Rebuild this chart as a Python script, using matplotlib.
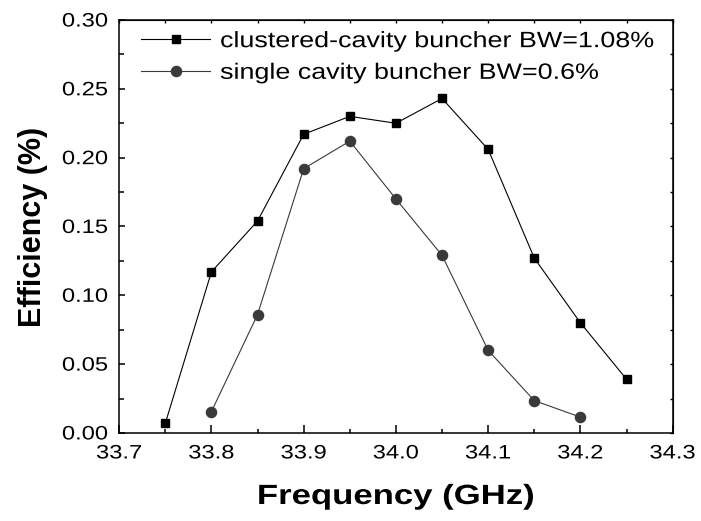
import numpy as np
import matplotlib
matplotlib.use('Agg')
import matplotlib.pyplot as plt
from matplotlib.ticker import MultipleLocator
from matplotlib.patheffects import AbstractPathEffect
from matplotlib.transforms import Affine2D

plt.rcParams['font.family'] = ['Liberation Sans', 'DejaVu Sans']

# clustered-cavity buncher
freq_cc = [33.75, 33.80, 33.85, 33.90, 33.95, 34.00, 34.05, 34.10, 34.15, 34.20, 34.25]
eff_cc = [0.007, 0.117, 0.154, 0.217, 0.230, 0.225, 0.243, 0.206, 0.127, 0.080, 0.039]

# single cavity buncher
freq_sc = [33.80, 33.85, 33.90, 33.95, 34.00, 34.05, 34.10, 34.15, 34.20]
eff_sc = [0.0155, 0.086, 0.192, 0.212, 0.170, 0.129, 0.060, 0.0235, 0.0115]

labels = ['clustered-cavity buncher BW=1.08%', 'single cavity buncher BW=0.6%']
xticks = [33.7, 33.8, 33.9, 34.0, 34.1, 34.2, 34.3]
yticks = [0.00, 0.05, 0.10, 0.15, 0.20, 0.25, 0.30]


class Wide(AbstractPathEffect):
    # the original font is drawn wider than Arial, stretch glyphs sideways
    def __init__(self, sx=1.22, anchor='center'):
        super().__init__()
        self.sx = sx
        self.anchor = anchor

    def draw_path(self, renderer, gc, tpath, affine, rgbFace=None):
        ext = tpath.get_extents(affine)
        if self.anchor == 'left':
            x0 = ext.x0
        elif self.anchor == 'right':
            x0 = ext.x1
        else:
            x0 = 0.5 * (ext.x0 + ext.x1)
        st = Affine2D().translate(-x0, 0).scale(self.sx, 1).translate(x0, 0)
        renderer.draw_path(gc, tpath, affine + st, rgbFace)


fig = plt.figure(figsize=(7.01, 5.21), dpi=100)
ax = fig.add_axes([0.170, 0.169, 0.7896, 0.7926])

ax.plot(freq_cc, eff_cc, color='black', lw=0.8, marker='s', ms=6.3,
        mfc='black', mec='black', label=labels[0])
ax.plot(freq_sc, eff_sc, color='#3a3a3a', lw=0.8, marker='o', ms=7.3,
        mfc='#3a3a3a', mec='#3a3a3a', label=labels[1])

ax.set_xlim(33.7, 34.3)
ax.set_ylim(0, 0.30)
ax.set_xticks(xticks)
ax.set_xticklabels(['%.1f' % v for v in xticks])
ax.set_yticks(yticks)
ax.set_yticklabels(['%.2f' % v for v in yticks])
ax.xaxis.set_minor_locator(MultipleLocator(0.05))
ax.yaxis.set_minor_locator(MultipleLocator(0.025))

ax.tick_params(which='both', direction='in', labelsize=14, width=1.1)
ax.tick_params(axis='x', which='major', length=6, pad=9)
ax.tick_params(axis='x', which='minor', length=3)
ax.tick_params(axis='y', which='major', length=4.5, pad=8)
ax.tick_params(axis='y', which='minor', length=3.5)
for s in ax.spines.values():
    s.set_linewidth(1.1)

# short ticks on top and right
top = ax.secondary_xaxis('top')
top.set_xticks(xticks)
top.xaxis.set_minor_locator(MultipleLocator(0.05))
top.tick_params(which='both', direction='in', length=2, width=1.0, labeltop=False)
right = ax.secondary_yaxis('right')
right.set_yticks(yticks)
right.yaxis.set_minor_locator(MultipleLocator(0.025))
right.tick_params(which='both', direction='in', length=2, width=1.0, labelright=False)

for t in ax.get_xticklabels():
    t.set_path_effects([Wide(1.22, 'center')])
for t in ax.get_yticklabels():
    t.set_path_effects([Wide(1.22, 'right')])

xl = ax.set_xlabel('Frequency (GHz)', fontsize=20, fontweight='bold', labelpad=15.5)
xl.set_path_effects([Wide(1.25, 'center')])
ax.set_ylabel('Efficiency (%)', fontsize=22, fontweight='bold', labelpad=16)

leg = ax.legend(loc='upper left', frameon=False, fontsize=16, handlelength=3.1,
                handletextpad=0.45, labelspacing=0.48, borderaxespad=0,
                borderpad=0, bbox_to_anchor=(0.040, 0.973))
for t in leg.get_texts():
    t.set_path_effects([Wide(1.21, 'left')])

fig.savefig('out.png', dpi=100)
